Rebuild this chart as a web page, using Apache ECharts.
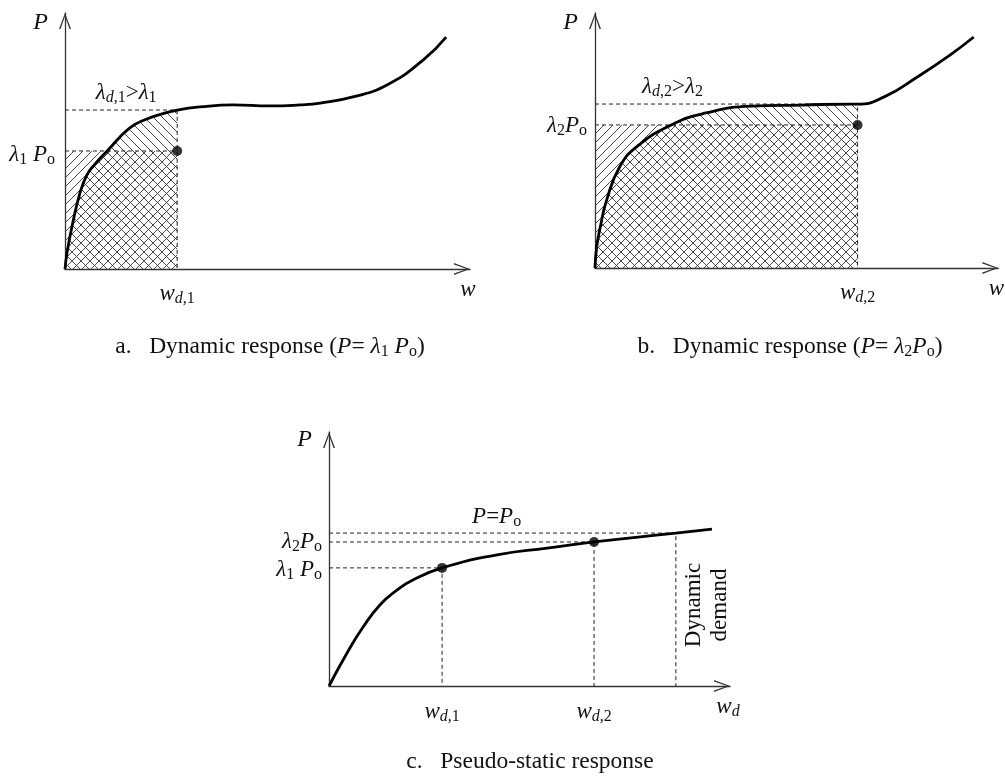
<!DOCTYPE html>
<html>
<head>
<meta charset="utf-8">
<script src="https://cdn.jsdelivr.net/npm/echarts@6/dist/echarts.min.js"></script>
<style>
  html, body { margin: 0; padding: 0; background: #fff; }
  #chart { width: 1005px; height: 776px; }
</style>
</head>
<body>
<div id="chart"></div>
<script>
// ---------- data (abscissa w, ordinate P, both in arbitrary units 0..10) ----------

// a. dynamic response under P = λ1·Po
const curveA = [[0,0],[0.05,0.63],[0.17,1.64],[0.37,2.97],[0.54,3.67],[0.74,4.10],[1.04,4.61],[1.60,5.51],[2.02,5.86],[2.42,6.07],[2.77,6.21],[3.33,6.33],[4.15,6.41],[5.06,6.37],[5.80,6.41],[6.30,6.48],[7.11,6.72],[7.95,7.19],[8.84,8.16],[9.41,9.06]];
const wdA = 2.77;      // w_{d,1}
const loadA = 4.61;    // λ1·Po
const resistA = 6.21;  // λ_{d,1}·Po

// b. dynamic response under P = λ2·Po
const curveB = [[0,0],[0.04,0.80],[0.13,1.60],[0.29,2.67],[0.61,3.96],[1.03,4.75],[1.89,5.61],[2.75,6.08],[3.88,6.35],[5.11,6.39],[6.34,6.43],[6.51,6.43],[7.17,6.71],[7.99,7.49],[8.80,8.35],[9.39,9.06]];
const wdB = 6.51;      // w_{d,2}
const loadB = 5.61;    // λ2·Po
const resistB = 6.43;  // λ_{d,2}·Po

// c. pseudo-static response
const curveC = [[0,0],[0.45,1.30],[0.85,2.32],[1.27,3.19],[1.70,3.78],[2.09,4.17],[2.82,4.65],[4.19,5.16],[5.44,5.43],[6.61,5.67],[8.65,6.02],[9.55,6.18]];
const wdC = [2.82, 6.61];     // w_{d,1}, w_{d,2}
const loadC = [4.65, 5.67];   // λ1·Po, λ2·Po
const demandW = 8.65;         // dynamic demand
const loadP0 = 6.02;          // Po

// ---------- styling ----------
const INK = '#111';
const SERIF = '"Liberation Serif", "DejaVu Serif", serif';
const ARROW = 'path://M6,0L12,16L10.5,16L6,3.2L1.5,16L0,16Z';
const SMOOTH = 0.5;

// rich-text tokens: i = italic, r = roman, s = roman subscript, si = italic subscript
function tokens(size, sub) {
  const base = { fontFamily: SERIF, fill: INK, color: INK };
  return {
    i:  Object.assign({ fontStyle: 'italic', fontSize: size, lineHeight: 26 }, base),
    r:  Object.assign({ fontSize: size, lineHeight: 26 }, base),
    s:  Object.assign({ fontSize: sub, lineHeight: 12, verticalAlign: 'bottom' }, base),
    si: Object.assign({ fontStyle: 'italic', fontSize: sub, lineHeight: 12, verticalAlign: 'bottom' }, base)
  };
}
const rich = tokens(23, 16);
const titleRich = tokens(23.5, 16);

// 45° hatch tiles: dir > 0 draws "/", dir < 0 draws "\"
function hatchTile(dir) {
  const n = 9;
  const c = document.createElement('canvas');
  c.width = n; c.height = n;
  const g = c.getContext('2d');
  g.strokeStyle = '#333';
  g.lineWidth = 0.9;
  g.beginPath();
  [-n, 0, n].forEach(k => {
    if (dir > 0) { g.moveTo(k - 1, n + 1); g.lineTo(k + n + 1, -1); }
    else { g.moveTo(k - 1, -1); g.lineTo(k + n + 1, n + 1); }
  });
  g.stroke();
  return { image: c, repeat: 'repeat' };
}
const slashFill = hatchTile(1);
const backFill = hatchTile(-1);

// ---------- axes ----------
const grids = [
  { left: 65,  top: 13,  width: 405, height: 256 },
  { left: 595, top: 13,  width: 407, height: 255 },
  { left: 329, top: 432, width: 401, height: 254 }
];
const axisLine = {
  symbol: ['none', ARROW], symbolSize: [12, 16], symbolOffset: [0, -8],
  lineStyle: { color: '#333', width: 1.3 }
};

function xAxis(gi, name) {
  return {
    gridIndex: gi, type: 'value', min: 0, max: 10, axisLine: axisLine,
    axisTick: { show: false }, axisLabel: { show: false }, splitLine: { show: false },
    name: name, nameLocation: 'end', nameGap: -2,
    nameTextStyle: { fontFamily: SERIF, fontStyle: 'italic', fontSize: 23, lineHeight: 26, color: INK,
                     align: 'center', verticalAlign: 'top', padding: [8, 0, 0, 0], rich: rich }
  };
}
function yAxis(gi, gap) {
  return {
    gridIndex: gi, type: 'value', min: 0, max: 10, axisLine: axisLine,
    axisTick: { show: false }, axisLabel: { show: false }, splitLine: { show: false },
    name: 'P', nameLocation: 'end', nameGap: gap,
    nameTextStyle: { fontFamily: SERIF, fontStyle: 'italic', fontSize: 24, color: INK,
                     align: 'right', verticalAlign: 'middle', padding: [0, 17, 0, 0] }
  };
}

// ---------- series helpers ----------
function curve(gi, pts) {
  return { type: 'line', xAxisIndex: gi, yAxisIndex: gi, data: pts, symbol: 'none',
           smooth: SMOOTH, silent: true, z: 5, lineStyle: { color: '#000', width: 2.8 } };
}
function dashed(gi, pts) {
  return { type: 'line', xAxisIndex: gi, yAxisIndex: gi, data: pts, symbol: 'none', silent: true, z: 3,
           lineStyle: { color: '#222', width: 1, type: [4, 3] } };
}
function dots(gi, pts) {
  return { type: 'scatter', xAxisIndex: gi, yAxisIndex: gi, data: pts, symbolSize: 10, silent: true, z: 6,
           itemStyle: { color: '#000' } };
}
// hatched area between a polyline and the w axis
function hatch(gi, pts, fill, smooth) {
  return { type: 'line', xAxisIndex: gi, yAxisIndex: gi, data: pts, symbol: 'none', silent: true, z: 1,
           smooth: smooth, lineStyle: { width: 0, opacity: 0 }, areaStyle: { color: fill, opacity: 1 } };
}
// work done by the applied load ("/") and by the resistance ("\")
function works(gi, pts, wd, load) {
  return [
    hatch(gi, [[0, load], [wd, load]], slashFill, false),
    hatch(gi, pts.filter(p => p[0] <= wd), backFill, SMOOTH)
  ];
}
// text anchored on a data point; dx/dy are pixel nudges from that point
function texts(gi, items) {
  return {
    type: 'custom', xAxisIndex: gi, yAxisIndex: gi, data: [[0, 0]], silent: true, z: 8, clip: false,
    renderItem: function (params, api) {
      return { type: 'group', children: items.map(t => {
        const p = api.coord(t.at);
        return { type: 'text', x: p[0] + (t.dx || 0), y: p[1] + (t.dy || 0), rotation: t.rotation || 0,
                 style: { text: t.text, rich: rich, fontFamily: SERIF, fontSize: 23, lineHeight: 26, fill: INK,
                          align: t.align || 'center', verticalAlign: t.va || 'middle' } };
      }) };
    }
  };
}

const wLabel = (k) => '{i|w}{si|d}{s|,' + k + '}';

const series = [].concat(
  // a
  works(0, curveA, wdA, loadA),
  [
    dashed(0, [[0, resistA], [wdA, resistA], [wdA, 0]]),
    dashed(0, [[0, loadA], [wdA, loadA]]),
    curve(0, curveA),
    dots(0, [[wdA, loadA]]),
    texts(0, [
      { at: [0, loadA], text: '{i|λ}{s|1}{i| P}{s|o}', align: 'right', dx: -10, dy: 4 },
      { at: [wdA, 0], text: wLabel(1), va: 'top', dy: 12 },
      { at: [1.51, resistA], text: '{i|λ}{si|d}{s|,1}{r|>}{i|λ}{s|1}', va: 'bottom', dy: -4 }
    ])
  ],
  // b
  works(1, curveB, wdB, loadB),
  [
    dashed(1, [[0, resistB], [wdB, resistB], [wdB, 0]]),
    dashed(1, [[0, loadB], [wdB, loadB]]),
    curve(1, curveB),
    dots(1, [[wdB, loadB]]),
    texts(1, [
      { at: [0, loadB], text: '{i|λ}{s|2}{i|P}{s|o}', align: 'right', dx: -8, dy: 1 },
      { at: [wdB, 0], text: wLabel(2), va: 'top', dy: 12 },
      { at: [1.92, resistB], text: '{i|λ}{si|d}{s|,2}{r|>}{i|λ}{s|2}', va: 'bottom', dy: -4 }
    ])
  ],
  // c
  [
    dashed(2, [[0, loadP0], [demandW, loadP0], [demandW, 0]]),
    dashed(2, [[0, loadC[1]], [wdC[1], loadC[1]], [wdC[1], 0]]),
    dashed(2, [[0, loadC[0]], [wdC[0], loadC[0]], [wdC[0], 0]]),
    curve(2, curveC),
    dots(2, [[wdC[0], loadC[0]], [wdC[1], loadC[1]]]),
    texts(2, [
      { at: [0, loadC[1]], text: '{i|λ}{s|2}{i|P}{s|o}', align: 'right', dx: -7, dy: 0 },
      { at: [0, loadC[0]], text: '{i|λ}{s|1}{i| P}{s|o}', align: 'right', dx: -7, dy: 2 },
      { at: [wdC[0], 0], text: wLabel(1), va: 'top', dy: 13 },
      { at: [wdC[1], 0], text: wLabel(2), va: 'top', dy: 13 },
      { at: [4.18, loadP0], text: '{i|P}{r|=}{i|P}{s|o}', va: 'bottom', dy: -3 },
      { at: [demandW, 3.19], text: '{r|Dynamic}\n{r|demand}', dx: 31, rotation: Math.PI / 2 }
    ])
  ]
);

function caption(x, y, text) {
  return { type: 'text', x: x, y: y, silent: true,
           style: { text: text, rich: titleRich, fontFamily: SERIF, fontSize: 23.5, fill: INK,
                    align: 'center', verticalAlign: 'middle' } };
}

const chart = echarts.init(document.getElementById('chart'), null, { renderer: 'canvas' });
chart.setOption({
  animation: false,
  backgroundColor: '#fff',
  grid: grids,
  xAxis: [xAxis(0, 'w'), xAxis(1, 'w'), xAxis(2, '{i|w}{si|d}')],
  yAxis: [yAxis(0, -10), yAxis(1, -10), yAxis(2, -8)],
  series: series,
  graphic: [
    caption(270, 347, '{r|a.   Dynamic response (}{i|P}{r|= }{i|λ}{s|1}{i| P}{s|o}{r|)}'),
    caption(790, 347, '{r|b.   Dynamic response (}{i|P}{r|= }{i|λ}{s|2}{i|P}{s|o}{r|)}'),
    caption(530, 762, '{r|c.   Pseudo-static response}')
  ]
});
</script>
</body>
</html>
